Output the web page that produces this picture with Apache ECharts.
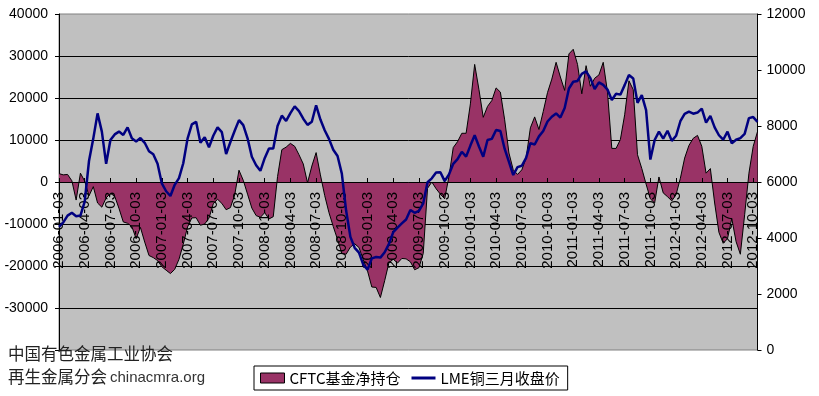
<!DOCTYPE html>
<html>
<head>
<meta charset="utf-8">
<script src="https://cdn.jsdelivr.net/npm/echarts@6/dist/echarts.min.js"></script>
<style>
html,body{margin:0;padding:0;background:#fff;}
#c{width:819px;height:396px;}
</style>
</head>
<body>
<div id="c"></div>
<script>
// Semi-monthly sampling dates (day 03 and 18 of each month), 2006-01-03 .. 2012-10-18
const categories = [];
for (let y = 2006; y <= 2012; y++) {
  for (let m = 1; m <= 12; m++) {
    const mm = (m < 10 ? '0' : '') + m;
    categories.push(y + '-' + mm + '-03');
    categories.push(y + '-' + mm + '-18');
  }
}
categories.length = 164;

const tickLabels = [
  '2006-01-03','2006-04-03','2006-07-03','2006-10-03',
  '2007-01-03','2007-04-03','2007-07-03','2007-10-03',
  '2008-01-03','2008-04-03','2008-07-03','2008-10-03',
  '2009-01-03','2009-04-03','2009-07-03','2009-10-03',
  '2010-01-03','2010-04-03','2010-07-03','2010-10-03',
  '2011-01-03','2011-04-03','2011-07-03','2011-10-03',
  '2012-01-03','2012-04-03','2012-07-03','2012-10-03'
];

// CFTC fund net position (left axis)
const cftc = [
  2000, 1700, 1800, 300, -4300, 2100, 200, -3300, -1100, -5000,
  -6000, -3800, -2700, -3400, -6300, -9500, -9830, -10600, -13500, -10800,
  -14300, -17500, -18000, -18700, -20170, -21000, -21800, -20800, -18400, -14800,
  -10700, -8560, -8500, -10300, -10000, -8600, -5200, -4100, -5100, -6600,
  -6100, -3100, 2800, 400, -2900, -6200, -8000, -8400, -7300, -8800,
  -8260, 1300, 7700, 8300, 9200, 8500, 6500, 4300, -200, 3800,
  7000, 1700, -3200, -7300, -10600, -13700, -17000, -17200, -15500, -14700,
  -15600, -18500, -21200, -25000, -25100, -27500, -23500, -19200, -18400, -19300,
  -18200, -18300, -19000, -20900, -20400, -17000, -1500, 0, -1600, -2900,
  -4000, 1300, 8200, 9600, 11600, 11600, 18600, 28000, 22000, 15400,
  18000, 19400, 22400, 21400, 14800, 6900, 2900, 1800, 2900, 5700,
  12900, 15500, 12500, 16800, 21300, 24500, 28500, 25000, 21800, 30500,
  31600, 28000, 21000, 27700, 22800, 24700, 25500, 28500, 21400, 8000,
  8000, 10100, 16000, 24100, 22000, 6500, 3200, -500, -4000, -5000,
  1200, -2600, -3500, -4500, -3000, 900, 5700, 8700, 10400, 11100,
  8500, 2100, 3200, -5000, -12000, -14600, -13500, -8700, -14200, -17200,
  -7800, 2100, 8500, 12000
];

// LME copper 3-month closing price (right axis)
const lme = [
  4400, 4560, 4800, 4900, 4780, 4800, 5300, 6750, 7550, 8450,
  7800, 6650, 7500, 7700, 7800, 7680, 7950, 7560, 7450, 7570,
  7400, 7100, 6990, 6650, 5950, 5670, 5500, 5900, 6140, 6670,
  7550, 8060, 8150, 7400, 7600, 7240, 7650, 7950, 7780, 7000,
  7430, 7830, 8210, 8030, 7560, 6900, 6600, 6400, 6850, 7200,
  7200, 8000, 8370, 8180, 8460, 8700, 8530, 8260, 8040, 8150,
  8740, 8230, 7850, 7540, 7150, 6930, 6300, 4980, 4040, 3650,
  3480, 3050, 2870, 3274, 3320, 3300, 3490, 3790, 4210, 4370,
  4520, 4660, 5000, 4900, 4970, 5240, 5990, 6130, 6340, 6350,
  6030, 6270, 6650, 6820, 7080, 6905, 7300, 7670, 7270, 6900,
  7500, 7540, 7860, 7820, 7180, 6720, 6250, 6530, 6580, 6860,
  7390, 7340, 7630, 7820, 8160, 8330, 8450, 8300, 8640, 9340,
  9580, 9610, 9860, 9950, 9710, 9320, 9560, 9470, 9300, 8930,
  9150, 9120, 9460, 9820, 9700, 8830, 9100, 8570, 6800, 7500,
  7800, 7550, 7830, 7470, 7650, 8170, 8430, 8510, 8440, 8480,
  8620, 8120, 8360, 7950, 7670, 7510, 7800, 7381, 7510, 7570,
  7720, 8280, 8320, 8150
];

const seriesNames = ['CFTC基金净持仓', 'LME铜三月收盘价'];

const chart = echarts.init(document.getElementById('c'), null, {renderer: 'canvas'});
const isTick = (idx, val) => tickLabels.indexOf(val) >= 0;
chart.setOption({
  animation: false,
  backgroundColor: '#ffffff',
  grid: {
    left: 59, right: 61.5, top: 14, bottom: 46,
    outerBoundsMode: 'none', containLabel: false,
    show: true, backgroundColor: '#C0C0C0', borderColor: '#808080', borderWidth: 1
  },
  legend: {
    left: 254, top: 366,
    padding: [4, 8, 4, 6],
    itemGap: 11,
    itemWidth: 24, itemHeight: 10,
    backgroundColor: '#ffffff',
    borderColor: '#000000', borderWidth: 1, borderRadius: 0,
    textStyle: {fontFamily: '"Noto Sans CJK SC"', fontSize: 15, color: '#000', lineHeight: 16},
    data: [
      {name: seriesNames[0], icon: 'rect', itemStyle: {color: '#993366', borderColor: '#000', borderWidth: 1}},
      {name: seriesNames[1], icon: 'path://M0,0 L24,0 L24,3 L0,3 Z', itemStyle: {color: '#000080', borderWidth: 0}}
    ]
  },
  xAxis: {
    type: 'category',
    data: categories,
    boundaryGap: false,
    position: 'bottom',
    offset: -168,
    z: 2.5,
    axisLine: {onZero: false, lineStyle: {color: '#000', width: 1}},
    axisTick: {show: true, inside: true, length: 4, interval: isTick, lineStyle: {color: '#000'}},
    axisLabel: {
      interval: isTick, rotate: 90, margin: 10, hideOverlap: false,
      fontFamily: '"Liberation Sans"', fontSize: 15, color: '#000'
    },
    splitLine: {show: false}
  },
  yAxis: [
    {
      type: 'value', min: -40000, max: 40000, interval: 10000,
      axisLine: {show: true, lineStyle: {color: '#000'}},
      axisTick: {show: true, length: 4, lineStyle: {color: '#000'}},
      axisLabel: {
        margin: 11, fontFamily: '"Liberation Sans"', fontSize: 14, color: '#000',
        formatter: v => (v === -40000 ? '' : String(v))
      },
      splitLine: {show: true, showMinLine: false, showMaxLine: false, lineStyle: {color: '#000', width: 1}}
    },
    {
      type: 'value', min: 0, max: 12000, interval: 2000, position: 'right',
      axisLine: {show: true, lineStyle: {color: '#000'}},
      axisTick: {show: true, length: 4, lineStyle: {color: '#000'}},
      axisLabel: {margin: 9, fontFamily: '"Liberation Sans"', fontSize: 14, color: '#000',
        formatter: v => String(v)},
      splitLine: {show: false}
    }
  ],
  series: [
    {
      name: seriesNames[0], type: 'line', yAxisIndex: 0, data: cftc,
      symbol: 'none', smooth: false,
      lineStyle: {color: '#000', width: 1},
      itemStyle: {color: '#993366'},
      areaStyle: {color: '#993366', opacity: 1, origin: 0},
      z: 1
    },
    {
      name: seriesNames[1], type: 'line', yAxisIndex: 1, data: lme,
      symbol: 'none', smooth: false,
      lineStyle: {color: '#000080', width: 2.5},
      itemStyle: {color: '#000080'},
      z: 3
    }
  ],
  graphic: [
    {type: 'text', left: 8, top: 345, z: 100,
     style: {text: '中国有色金属工业协会', font: '16.5px "Noto Sans CJK SC"', fill: '#222'}},
    {type: 'text', left: 8, top: 368, z: 100,
     style: {text: '再生金属分会', font: '16.5px "Noto Sans CJK SC"', fill: '#222'}},
    {type: 'text', left: 110, top: 370, z: 100,
     style: {text: 'chinacmra.org', font: '15px "Liberation Sans"', fill: '#333'}}
  ]
});
</script>
</body>
</html>
